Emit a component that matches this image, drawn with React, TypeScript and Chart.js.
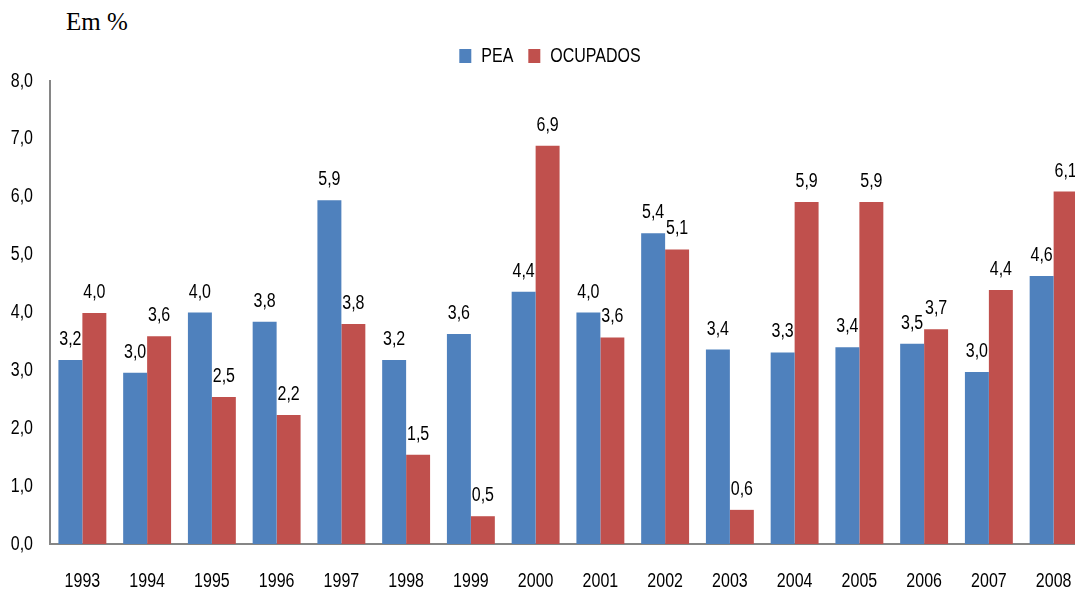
import React, { useEffect, useRef } from 'react';
import { Chart, registerables } from 'chart.js';

Chart.register(...registerables);

const categories = ['1993', '1994', '1995', '1996', '1997', '1998', '1999', '2000', '2001', '2002', '2003', '2004', '2005', '2006', '2007', '2008'];
const peaValues = [3.18, 2.96, 4.0, 3.84, 5.94, 3.18, 3.63, 4.36, 4.0, 5.37, 3.36, 3.31, 3.4, 3.46, 2.97, 4.63];
const ocupadosValues = [3.99, 3.59, 2.54, 2.23, 3.8, 1.54, 0.48, 6.88, 3.57, 5.09, 0.59, 5.91, 5.91, 3.71, 4.39, 6.09];
const yTickLabels = ['0,0', '1,0', '2,0', '3,0', '4,0', '5,0', '6,0', '7,0', '8,0'];
const seriesNames = ['PEA', 'OCUPADOS'];

const FONT = "'Liberation Sans', Arial, sans-serif";
const SX = 0.8; // narrow (Calibri-like) text proportions

const fmt = (v: number) => v.toFixed(1).replace('.', ',');

function narrowText(ctx: any) {
  if (ctx.__narrow) return;
  ctx.__narrow = true;
  const origFill = ctx.fillText;
  const origMeasure = ctx.measureText;
  ctx.fillText = function (text: string, x: number, y: number) {
    this.save();
    this.translate(x, y);
    this.scale(SX, 1);
    origFill.call(this, text, 0, 0);
    this.restore();
  };
  ctx.measureText = function (text: string) {
    const m = origMeasure.call(this, text);
    return {
      width: m.width * SX,
      actualBoundingBoxLeft: m.actualBoundingBoxLeft * SX,
      actualBoundingBoxRight: m.actualBoundingBoxRight * SX,
      actualBoundingBoxAscent: m.actualBoundingBoxAscent,
      actualBoundingBoxDescent: m.actualBoundingBoxDescent,
      fontBoundingBoxAscent: m.fontBoundingBoxAscent,
      fontBoundingBoxDescent: m.fontBoundingBoxDescent,
    };
  };
}

export default function App() {
  const ref = useRef<HTMLCanvasElement>(null);

  useEffect(() => {
    const canvas = ref.current!;
    narrowText(canvas.getContext('2d'));

    const labelPlugin = {
      id: 'barLabels',
      afterLayout(chart: any) {
        if (chart.legend) {
          chart.legend.left += 7;
          chart.legend.right += 7;
        }
      },
      afterDatasetsDraw(chart: any) {
        const ctx = chart.ctx;
        ctx.save();
        ctx.font = `20px ${FONT}`;
        ctx.fillStyle = '#000';
        ctx.textAlign = 'center';
        ctx.textBaseline = 'alphabetic';
        chart.data.datasets.forEach((ds: any, i: number) => {
          const meta = chart.getDatasetMeta(i);
          meta.data.forEach((el: any, j: number) => {
            const v = ds.data[j] as number;
            ctx.fillText(fmt(v), el.x, el.y - 15);
          });
        });
        ctx.restore();
      },
    };

    const chart = new Chart(canvas, {
      type: 'bar',
      data: {
        labels: categories,
        datasets: [
          {
            label: seriesNames[0],
            data: peaValues,
            backgroundColor: '#4F81BD',
            borderWidth: 0,
            categoryPercentage: 0.74,
            barPercentage: 1.0,
          },
          {
            label: seriesNames[1],
            data: ocupadosValues,
            backgroundColor: '#C0504D',
            borderWidth: 0,
            categoryPercentage: 0.74,
            barPercentage: 1.0,
          },
        ],
      },
      options: {
        responsive: false,
        animation: false,
        layout: { padding: { top: 31, left: 0, right: 14, bottom: 0 } },
        plugins: {
          legend: {
            position: 'top',
            labels: {
              boxWidth: 12,
              boxHeight: 14,
              padding: 15,
              color: '#000',
              font: { family: FONT, size: 20 },
            },
          },
          subtitle: {
            display: true,
            text: ' ',
            weight: 500,
            color: 'rgba(0,0,0,0)',
            font: { size: 5, lineHeight: 1 },
            padding: 0,
          },
          tooltip: { enabled: false },
        },
        scales: {
          x: {
            grid: { display: false, drawTicks: false },
            border: { display: true, color: '#868686', width: 2 },
            ticks: {
              color: '#000',
              font: { family: FONT, size: 20 },
              padding: 25,
              autoSkip: false,
              maxRotation: 0,
            },
            afterFit: (s: any) => {
              s.height = 45;
            },
          },
          y: {
            min: 0,
            max: 8,
            grid: { display: false, drawTicks: false },
            border: { display: true, color: '#868686', width: 2 },
            ticks: {
              stepSize: 1,
              padding: 17,
              color: '#000',
              font: { family: FONT, size: 20 },
              callback: (v: any) => yTickLabels[Math.round(Number(v))],
            },
            afterFit: (s: any) => {
              s.width = 50;
            },
          },
        },
      },
      plugins: [labelPlugin],
    } as any);

    return () => chart.destroy();
  }, []);

  return (
    <div style={{ position: 'absolute', left: 0, top: 0, width: 1075, height: 589, overflow: 'hidden', background: '#fff' }}>
      <div
        style={{
          position: 'absolute',
          left: 66,
          top: 8,
          fontFamily: "'Liberation Serif', 'Times New Roman', serif",
          fontSize: 25,
          color: '#000',
          whiteSpace: 'nowrap',
        }}
      >
        Em %
      </div>
      <canvas
        ref={ref}
        width={1100}
        height={589}
        style={{ position: 'absolute', left: 0, top: 0, width: 1100, height: 589 }}
      />
    </div>
  );
}
